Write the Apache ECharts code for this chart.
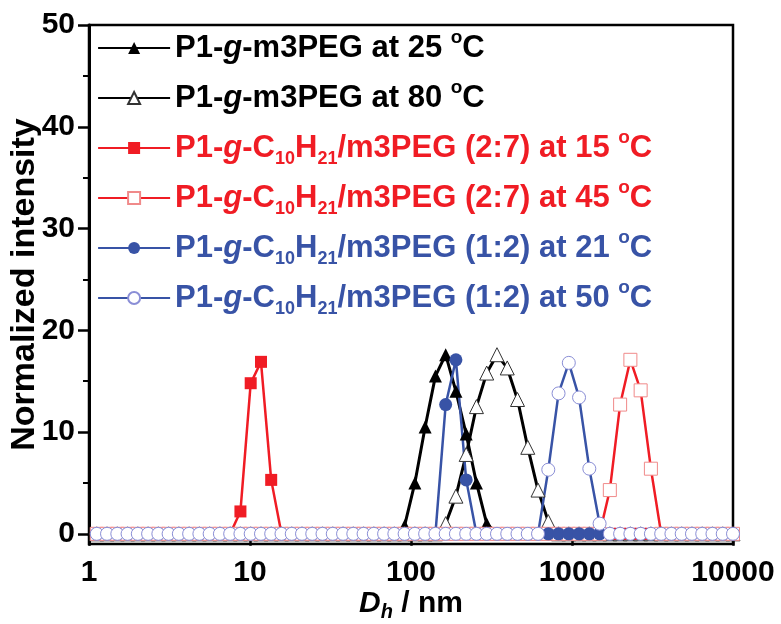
<!DOCTYPE html>
<html>
<head>
<meta charset="utf-8">
<script src="https://cdn.jsdelivr.net/npm/echarts@6/dist/echarts.min.js"></script>
<style>
html,body{margin:0;padding:0;background:#fff;}
#chart{width:781px;height:624px;}
</style>
</head>
<body>
<div id="chart"></div>
<script>
// DLS size classes (nm)
var sizes = [1.117,1.294,1.499,1.736,2.010,2.328,2.696,3.122,3.615,4.187,4.849,5.615,6.503,7.531,8.721,10.10,11.70,13.54,15.69,18.17,21.04,24.36,28.21,32.67,37.84,43.82,50.75,58.77,68.06,78.82,91.28,105.7,122.4,141.8,164.2,190.1,220.2,255.0,295.3,342.0,396.1,458.7,531.2,615.1,712.4,825.0,955.4,1106,1281,1484,1718,1990,2305,2669,3091,3580,4145,4801,5560,6439,7456,8635,10000];

var m3peg25 = [0,0,0,0,0,0,0,0,0,0,0,0,0,0,0,0,0,0,0,0,0,0,0,0,0,0,0,0,0,0,0.8,5.0,10.5,15.5,17.6,14.0,9.8,5.0,1.0,0,0,0,0,0,0,0,0,0,0,0,0,0,0,0,0,0,0,0,0,0,0,0,0];
var m3peg80 = [0,0,0,0,0,0,0,0,0,0,0,0,0,0,0,0,0,0,0,0,0,0,0,0,0,0,0,0,0,0,0,0,0,0,1.0,3.7,7.8,12.5,15.8,17.6,16.3,13.2,8.5,4.3,1.2,0,0,0,0,0,0,0,0,0,0,0,0,0,0,0,0,0,0];
var c10_27_15 = [0,0,0,0,0,0,0,0,0,0,0,0,0,0,2.2,14.8,16.9,5.3,0,0,0,0,0,0,0,0,0,0,0,0,0,0,0,0,0,0,0,0,0,0,0,0,0,0,0,0,0,0,0,0,0,0,0,0,0,0,0,0,0,0,0,0,0];
var c10_27_45 = [0,0,0,0,0,0,0,0,0,0,0,0,0,0,0,0,0,0,0,0,0,0,0,0,0,0,0,0,0,0,0,0,0,0,0,0,0,0,0,0,0,0,0,0,0,0,0,0,0,0,4.3,12.7,17.1,14.1,6.4,0,0,0,0,0,0,0,0];
var c10_12_21 = [0,0,0,0,0,0,0,0,0,0,0,0,0,0,0,0,0,0,0,0,0,0,0,0,0,0,0,0,0,0,0,0,0,0,12.7,17.1,5.3,0,0,0,0,0,0,0,0,0,0,0,0,0,0,0,0,0,0,0,0,0,0,0,0,0,0];
var c10_12_50 = [0,0,0,0,0,0,0,0,0,0,0,0,0,0,0,0,0,0,0,0,0,0,0,0,0,0,0,0,0,0,0,0,0,0,0,0,0,0,0,0,0,0,0,0,6.3,13.8,16.8,13.4,6.4,1.0,0,0,0,0,0,0,0,0,0,0,0,0,0];

var seriesNames = ['P1-g-m3PEG at 25 °C','P1-g-m3PEG at 80 °C','P1-g-C10H21/m3PEG (2:7) at 15 °C','P1-g-C10H21/m3PEG (2:7) at 45 °C','P1-g-C10H21/m3PEG (1:2) at 21 °C','P1-g-C10H21/m3PEG (1:2) at 50 °C'];
var xMajorTicks = [1,10,100,1000,10000];
var xMinorTicks = [2,3,4,5,6,7,8,9,20,30,40,50,60,70,80,90,200,300,400,500,600,700,800,900,2000,3000,4000,5000,6000,7000,8000,9000];
var yMajorTicks = [0,10,20,30,40,50];
var yMinorTicks = [5,15,25,35,45];

var BLACK = '#000000', RED = '#f01c24', BLUE = '#3853a6';
var FONT = '"Liberation Sans", Arial, sans-serif';

function pairs(vals){ return sizes.map(function(s,i){ return [s, vals[i]]; }); }

function richFor(key, color){
  var r = {};
  r['b'+key] = {color: color, fontSize: 31, fontWeight: 'bold', fontFamily: FONT, lineHeight: 40};
  r['i'+key] = {color: color, fontSize: 31, fontWeight: 'bold', fontStyle: 'italic', fontFamily: FONT, lineHeight: 40};
  r['s'+key] = {color: color, fontSize: 18, fontWeight: 'bold', fontFamily: FONT, lineHeight: 8, verticalAlign: 'bottom'};
  r['u'+key] = {color: color, fontSize: 19, fontWeight: 'bold', fontFamily: FONT, lineHeight: 16, verticalAlign: 'top'};
  return r;
}
var legendRich = Object.assign({}, richFor('k', BLACK), richFor('r', RED), richFor('c', BLUE));

var legendText = {};
legendText[seriesNames[0]] = '{bk|P1-}{ik|g}{bk|-m3PEG at 25 }{uk|o}{bk|C}';
legendText[seriesNames[1]] = '{bk|P1-}{ik|g}{bk|-m3PEG at 80 }{uk|o}{bk|C}';
legendText[seriesNames[2]] = '{br|P1-}{ir|g}{br|-C}{sr|10}{br|H}{sr|21}{br|/m3PEG (2:7) at 15 }{ur|o}{br|C}';
legendText[seriesNames[3]] = '{br|P1-}{ir|g}{br|-C}{sr|10}{br|H}{sr|21}{br|/m3PEG (2:7) at 45 }{ur|o}{br|C}';
legendText[seriesNames[4]] = '{bc|P1-}{ic|g}{bc|-C}{sc|10}{bc|H}{sc|21}{bc|/m3PEG (1:2) at 21 }{uc|o}{bc|C}';
legendText[seriesNames[5]] = '{bc|P1-}{ic|g}{bc|-C}{sc|10}{bc|H}{sc|21}{bc|/m3PEG (1:2) at 50 }{uc|o}{bc|C}';

function mkSeries(name, vals, symbol, lineColor, fill, border, bw, lw, size){
  return {
    name: name, type: 'line', data: pairs(vals),
    symbol: symbol, symbolSize: size, showAllSymbol: true,
    lineStyle: {color: lineColor, width: lw},
    itemStyle: {color: fill, borderColor: border, borderWidth: bw},
    emphasis: {disabled: true}, animation: false, z: 2
  };
}

var chart = echarts.init(document.getElementById('chart'), null, {renderer: 'canvas'});
chart.setOption({
  backgroundColor: '#ffffff',
  animation: false,
  grid: {left: 89, right: 48, top: 25, bottom: 80, outerBoundsMode: 'none', containLabel: false,
         show: true, borderColor: '#000', borderWidth: 2.5, backgroundColor: 'transparent'},
  legend: {
    orient: 'vertical', left: 92, top: 23, itemWidth: 72, itemHeight: 15, itemGap: 10,
    selectedMode: false, data: seriesNames,
    lineStyle: {width: 2.2},
    formatter: function(n){ return legendText[n]; },
    textStyle: {fontFamily: FONT, fontSize: 31, fontWeight: 'bold', lineHeight: 40, rich: legendRich}
  },
  xAxis: [{
    type: 'log', logBase: 10, min: 1, max: 10000, position: 'bottom',
    name: '{d|D}{h|h}{n| / nm}', nameLocation: 'middle', nameGap: 42, nameMoveOverlap: false,
    nameTextStyle: {rich: {
      d: {fontSize: 30, fontWeight: 'bold', fontStyle: 'italic', fontFamily: FONT, color: '#000', lineHeight: 36},
      h: {fontSize: 20, fontWeight: 'bold', fontStyle: 'italic', fontFamily: FONT, color: '#000', lineHeight: 6, verticalAlign: 'bottom'},
      n: {fontSize: 30, fontWeight: 'bold', fontFamily: FONT, color: '#000', lineHeight: 36}
    }},
    axisLine: {show: true, lineStyle: {color: '#000', width: 3}},
    axisTick: {show: true, inside: false, length: 12, lineStyle: {color: '#000', width: 2.5}, customValues: xMajorTicks},
    axisLabel: {show: true, margin: 14, fontSize: 30, fontWeight: 'bold', fontFamily: FONT, color: '#000',
                customValues: xMajorTicks, formatter: function(v){ return String(Math.round(v)); }},
    splitLine: {show: false}, minorTick: {show: false}
  }, {
    type: 'log', logBase: 10, min: 1, max: 10000, position: 'bottom',
    axisLine: {show: false},
    axisTick: {show: true, inside: false, length: 6, lineStyle: {color: '#000', width: 2}, customValues: xMinorTicks},
    axisLabel: {show: false, customValues: xMinorTicks},
    splitLine: {show: false}
  }],
  yAxis: [{
    type: 'value', min: -1, max: 50, position: 'left',
    name: 'Normalized intensity', nameLocation: 'middle', nameGap: 47, nameMoveOverlap: false,
    nameTextStyle: {fontSize: 34, fontWeight: 'bold', fontFamily: FONT, color: '#000'},
    axisLine: {show: true, lineStyle: {color: '#000', width: 3}},
    axisTick: {show: true, inside: false, length: 11, lineStyle: {color: '#000', width: 2.5}, customValues: yMajorTicks},
    axisLabel: {show: true, margin: 14, fontSize: 30, fontWeight: 'bold', fontFamily: FONT, color: '#000', customValues: yMajorTicks},
    splitLine: {show: false}
  }, {
    type: 'value', min: -1, max: 50, position: 'left',
    axisLine: {show: false},
    axisTick: {show: true, inside: false, length: 6, lineStyle: {color: '#000', width: 2}, customValues: yMinorTicks},
    axisLabel: {show: false, customValues: yMinorTicks},
    splitLine: {show: false}
  }],
  series: [
    mkSeries(seriesNames[0], m3peg25, 'triangle', BLACK, BLACK, BLACK, 0, 3, 13),
    mkSeries(seriesNames[1], m3peg80, 'triangle', BLACK, '#ffffff', '#333333', 1, 3, 14),
    mkSeries(seriesNames[2], c10_27_15, 'rect', RED, RED, RED, 0, 2.5, 12),
    mkSeries(seriesNames[3], c10_27_45, 'rect', RED, '#ffffff', '#f08a8a', 1, 2.5, 13),
    mkSeries(seriesNames[4], c10_12_21, 'circle', BLUE, BLUE, BLUE, 0, 2.5, 13),
    mkSeries(seriesNames[5], c10_12_50, 'circle', BLUE, '#ffffff', '#8a8ed6', 1, 2.5, 13)
  ]
});
</script>
</body>
</html>
